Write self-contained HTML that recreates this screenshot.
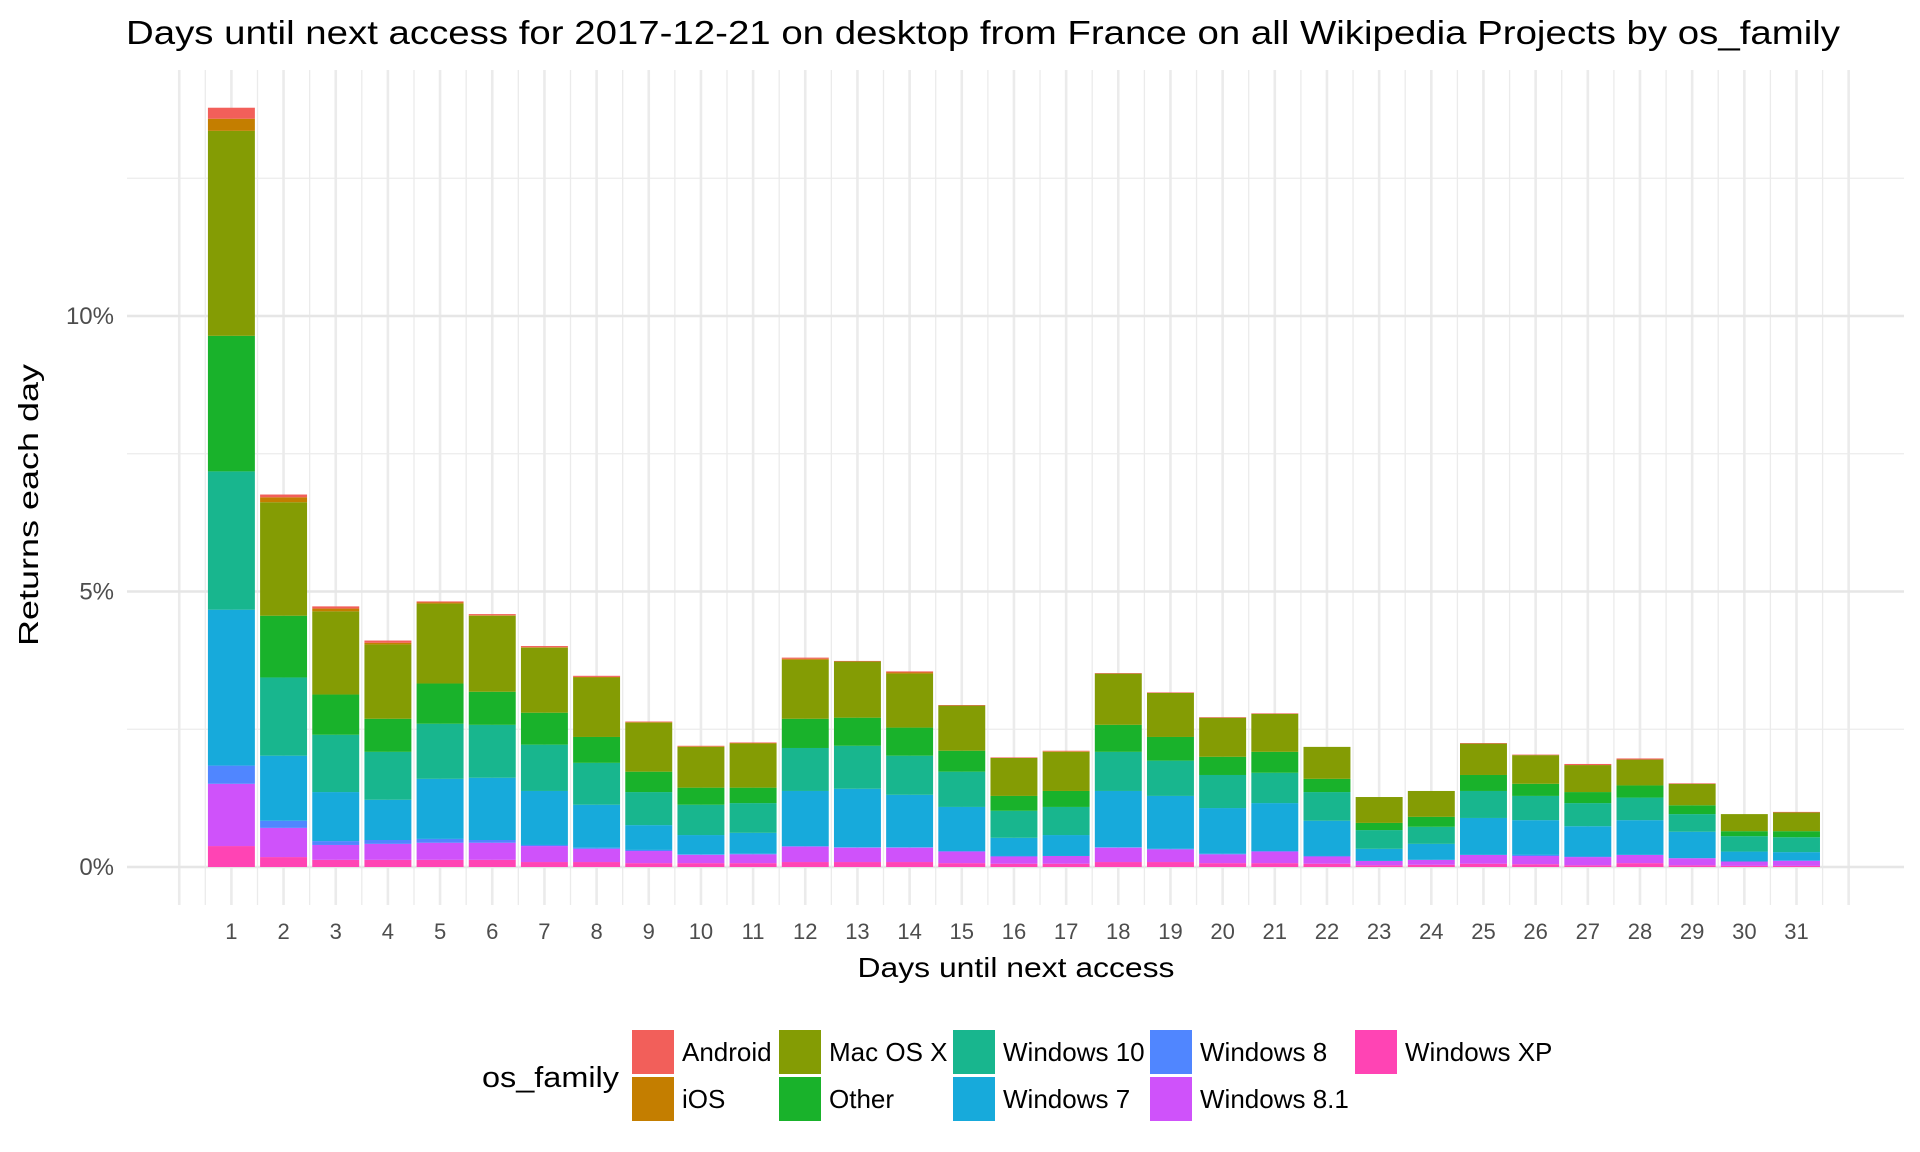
<!DOCTYPE html>
<html><head><meta charset="utf-8"><style>
html,body{margin:0;padding:0;background:#fff;}
svg{display:block;font-family:"Liberation Sans",Arial,sans-serif;}
</style></head><body>
<svg id="chart" width="1920" height="1152" viewBox="0 0 1920 1152" xmlns="http://www.w3.org/2000/svg">
<text x="126" y="44" font-size="33" fill="#000" textLength="1714" lengthAdjust="spacingAndGlyphs">Days until next access for 2017-12-21 on desktop from France on all Wikipedia Projects by os_family</text>
<g id="grid"></g>
<g id="bars"></g>
<g id="axes"></g>
<text x="1016" y="977" font-size="28" text-anchor="middle" fill="#000" textLength="317" lengthAdjust="spacingAndGlyphs">Days until next access</text>
<text transform="translate(38,505) rotate(-90)" font-size="28" text-anchor="middle" fill="#000" textLength="282" lengthAdjust="spacingAndGlyphs">Returns each day</text>
<g id="legend"></g>
</svg>
<script>
const categories = [1,2,3,4,5,6,7,8,9,10,11,12,13,14,15,16,17,18,19,20,21,22,23,24,25,26,27,28,29,30,31];
const seriesNames = ["Windows XP","Windows 8.1","Windows 8","Windows 7","Windows 10","Other","Mac OS X","iOS","Android"];
const winXP  = [.38,.18,.13,.13,.13,.13,.09,.09,.07,.07,.07,.09,.09,.09,.07,.06,.06,.09,.09,.07,.07,.06,.03,.04,.06,.05,.03,.07,.03,.02,.02];
const win81  = [1.13,.53,.27,.29,.31,.31,.29,.24,.22,.15,.16,.28,.26,.26,.21,.13,.14,.26,.23,.16,.21,.13,.08,.09,.16,.15,.15,.15,.13,.08,.09];
const win8   = [.33,.13,.07,.07,.07,.05,.02,.02,.02,.01,.01,.01,.01,.01,.01,.01,0,.01,.01,.01,.01,.01,0,0,0,.02,.01,0,0,0,.01];
const win7   = [2.83,1.18,.89,.73,1.09,1.13,.98,.78,.45,.35,.38,1.0,1.06,.95,.8,.33,.38,1.02,.96,.83,.87,.64,.22,.29,.67,.63,.55,.63,.48,.18,.15];
const win10  = [2.51,1.42,1.04,.87,1.0,.96,.84,.76,.6,.55,.54,.78,.78,.71,.64,.49,.51,.71,.64,.6,.55,.52,.34,.31,.49,.44,.42,.41,.32,.28,.27];
const other  = [2.46,1.12,.73,.6,.73,.6,.58,.47,.37,.31,.28,.53,.51,.51,.38,.27,.29,.49,.43,.33,.38,.24,.13,.18,.29,.22,.2,.22,.16,.09,.11];
const macOSX = [3.72,2.06,1.51,1.35,1.45,1.38,1.18,1.08,.89,.74,.8,1.07,1.02,.98,.82,.69,.71,.93,.8,.71,.69,.58,.47,.47,.57,.52,.49,.47,.39,.31,.34];
const iOS    = [.22,.09,.05,.03,.02,.01,.01,.01,.01,.01,.01,.02,0,.02,0,0,.01,0,0,0,0,0,0,0,0,0,0,0,0,0,0];
const android= [.2,.05,.04,.04,.02,.02,.02,.02,.01,.01,.01,.02,.01,.02,.01,.01,.01,.01,.01,.01,.01,0,0,0,.01,.01,.02,.02,.01,0,.01];
const yTicks = [0,5,10];
const yTickLabels = ["0%","5%","10%"];
const yMinor = [2.5,7.5,12.5];
const legendOrder = ["Android","iOS","Mac OS X","Other","Windows 10","Windows 7","Windows 8","Windows 8.1","Windows XP"];

const series = [winXP,win81,win8,win7,win10,other,macOSX,iOS,android];
const colors = {"Android":"#f25f5a","iOS":"#c47e00","Mac OS X":"#849c04","Other":"#19b22b","Windows 10":"#18b68e","Windows 7":"#17aadb","Windows 8":"#5086ff","Windows 8.1":"#cf52fa","Windows XP":"#ff44b4"};
const NS="http://www.w3.org/2000/svg";
const panel={l:127,r:1904,t:70,b:905};
function xScale(v){return 231.4+(v-1)*52.17;}
function yScale(v){return 867-v*55.1;}
const bw=52.17*0.9;
function mk(tag,attrs,parent){const e=document.createElementNS(NS,tag);for(const k in attrs)e.setAttribute(k,attrs[k]);parent.appendChild(e);return e;}
const grid=document.getElementById('grid');
for(const v of yMinor){const l=mk('line',{x1:panel.l,x2:panel.r,y1:yScale(v),y2:yScale(v),stroke:'#ececec','stroke-width':1.3},grid);

}
for(let i=0;i<=64;i++){const v=i/2;const l=mk('line',{x1:xScale(v),x2:xScale(v),y1:panel.t,y2:panel.b,stroke:'#ebebeb','stroke-width':(i%2===0)?2.6:1.3},grid);

}
for(const v of yTicks){const l=mk('line',{x1:panel.l,x2:panel.r,y1:yScale(v),y2:yScale(v),stroke:'#e6e6e6','stroke-width':2.6},grid);

}
const bars=document.getElementById('bars');
categories.forEach((c,i)=>{let cum=0;
series.forEach((s,j)=>{const v=s[i];if(v<=0){return;}
const r=mk('rect',{x:xScale(c)-bw/2,y:yScale(cum+v),width:bw,height:yScale(cum)-yScale(cum+v),fill:colors[seriesNames[j]]},bars);


cum+=v;});});
const axes=document.getElementById('axes');
yTicks.forEach((v,i)=>{const t=mk('text',{x:114,y:yScale(v)+8,'font-size':24,'text-anchor':'end',fill:'#4d4d4d'},axes);t.textContent=yTickLabels[i];

});
categories.forEach(c=>{const t=mk('text',{x:xScale(c),y:939,'font-size':22,'text-anchor':'middle',fill:'#4d4d4d'},axes);t.textContent=c;

});
const lg=document.getElementById('legend');
const lt=mk('text',{x:482,y:1087,'font-size':29,fill:'#000',textLength:137,lengthAdjust:'spacingAndGlyphs'},lg);lt.textContent='os_family';


const colX=[632,779,953,1150,1355];
legendOrder.forEach((n,i)=>{const col=Math.floor(i/2),row=i%2;const x=colX[col],y=1030+row*47;
const g=mk('g',{},lg);


mk('rect',{x:x,y:y,width:42,height:44,fill:colors[n]},g);
const t=mk('text',{x:x+50,y:y+31,'font-size':26,fill:'#000'},g);t.textContent=n;});
</script>
</body></html>
